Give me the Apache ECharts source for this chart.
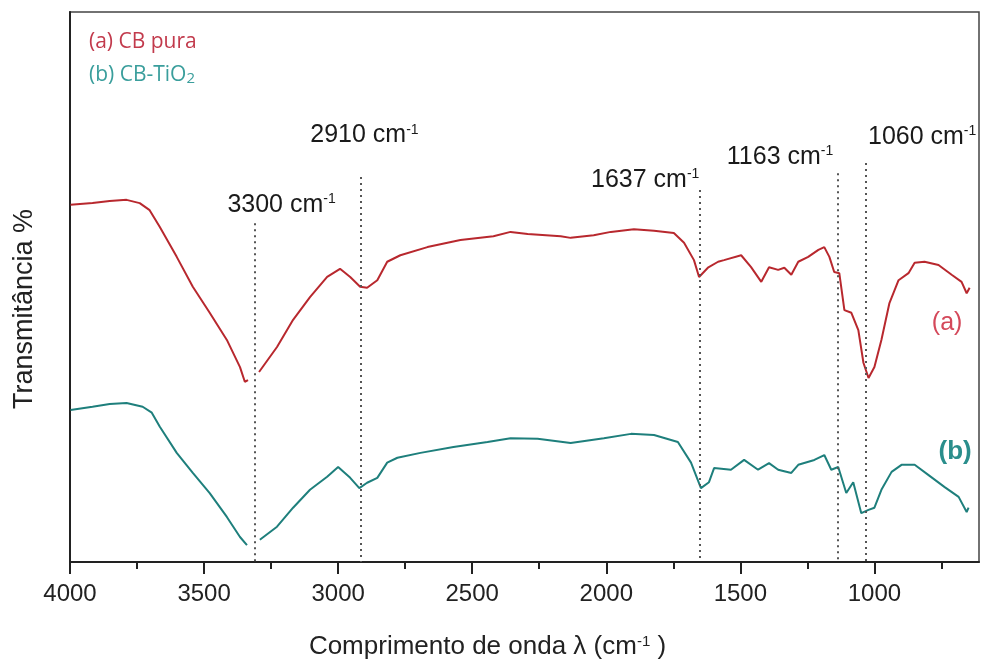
<!DOCTYPE html>
<html>
<head>
<meta charset="utf-8">
<title>FTIR CB</title>
<script src="https://cdn.jsdelivr.net/npm/echarts@6/dist/echarts.min.js"></script>
<style>
  html, body { margin: 0; padding: 0; background: #fff; }
  #ftir { width: 981px; height: 659px; }
</style>
</head>
<body>
<div id="ftir"></div>
<script>
// espectro (a) CB pura: [número de onda, transmitância]
const curveA = [
  [3998, 64.5], [3916, 64.8], [3852, 65.2], [3789, 65.4], [3740, 64.8], [3703, 63.5],
  [3665, 60.4], [3602, 54.9], [3542, 49.4], [3479, 44.6], [3415, 39.6], [3366, 34.6],
  [3348, 31.9], [3336, 32.2], [3318, null], [3295, 33.7], [3228, 38.3], [3168, 43.3],
  [3105, 47.5], [3041, 51.2], [2993, 52.7], [2955, 51.2], [2918, 49.4], [2892, 49.2],
  [2854, 50.6], [2817, 54.0], [2768, 55.2], [2667, 56.7], [2544, 58.0], [2421, 58.7],
  [2357, 59.5], [2293, 59.1], [2170, 58.7], [2133, 58.4], [2047, 58.9], [1983, 59.5],
  [1897, 60.0], [1822, 59.7], [1748, 59.3], [1710, 57.5], [1673, 54.3], [1654, 51.2],
  [1621, 52.9], [1583, 54.0], [1561, 54.3], [1497, 55.2], [1460, 53.0], [1422, 50.3],
  [1393, 53.0], [1359, 52.5], [1336, 52.9], [1310, 51.6], [1284, 54.0], [1247, 54.9],
  [1209, 56.2], [1187, 56.7], [1168, 54.9], [1150, 52.1], [1131, 51.9], [1112, 45.1],
  [1086, 44.6], [1060, 41.4], [1041, 35.4], [1022, 32.6], [1000, 34.6], [974, 39.6],
  [944, 46.4], [910, 50.6], [873, 51.9], [850, 53.8], [813, 54.0], [761, 53.4],
  [712, 51.6], [675, 50.3], [656, 48.2], [645, 49.2]
]

// espectro (b) CB-TiO2
const curveB = [
  [3998, 26.7], [3916, 27.3], [3852, 27.8], [3789, 28.0], [3729, 27.3], [3695, 26.2],
  [3665, 23.6], [3602, 18.8], [3542, 15.1], [3479, 11.4], [3415, 7.0], [3366, 3.3],
  [3340, 1.8], [3318, null], [3292, 2.8], [3228, 5.2], [3168, 8.7], [3105, 12.0],
  [3041, 14.4], [3000, 16.2], [2955, 14.2], [2921, 12.3], [2892, 13.3], [2854, 14.2],
  [2817, 17.0], [2779, 17.9], [2693, 18.8], [2570, 19.9], [2443, 20.8], [2357, 21.5],
  [2256, 21.4], [2133, 20.6], [2009, 21.5], [1908, 22.3], [1822, 22.1], [1733, 20.8],
  [1684, 17.0], [1647, 12.3], [1617, 13.4], [1598, 16.0], [1535, 15.7], [1486, 17.5],
  [1434, 15.7], [1393, 16.9], [1359, 15.7], [1310, 15.1], [1284, 16.6], [1224, 17.5],
  [1187, 18.4], [1161, 15.7], [1135, 16.2], [1105, 11.4], [1079, 13.4], [1049, 7.7],
  [1022, 8.3], [1000, 8.7], [974, 12.0], [936, 15.3], [899, 16.6], [850, 16.6],
  [798, 14.7], [738, 12.5], [686, 10.7], [656, 7.9], [649, 8.7]
]

// eixo x
const majorTicks = [4000, 3500, 3000, 2500, 2000, 1500, 1000]
const minorTicks = [3750, 3250, 2750, 2250, 1750, 1250, 750]

// bandas marcadas
const peakNames = ['3300', '2910', '1637', '1163', '1060']
const peakLines = [3311, 2917, 1650, 1138, 1031]
const peakTops = [61.1, 69.6, 67.2, 70.3, 72.2]

const colorA = '#b8282e'
const colorB = '#1e7f7c'

// onde fica o texto de cada banda (em coordenadas do gráfico)
const peakLabelAt = [[3211, 64.5], [2902, 77.3], [1855, 69.1], [1352, 73.3], [822, 77.0]]

const chart = echarts.init(document.getElementById('ftir'))

const axisFont = 'Liberation Sans, Arial, sans-serif'

chart.setOption({
  animation: false,
  grid: {
    left: 70,
    right: 2,
    top: 12,
    bottom: 97,
    outerBoundsMode: 'none',
    containLabel: false,
    show: true,
    borderColor: '#444',
    borderWidth: 1.5
  },
  legend: {
    orient: 'vertical',
    left: 79,
    top: 27,
    icon: 'none',
    itemWidth: 0,
    itemGap: 12,
    selectedMode: false,
    data: [
      { name: '(a) CB pura', textStyle: { color: '#c23a4c' } },
      { name: '(b) CB-TiO2', textStyle: { color: '#3a9e9c' } }
    ],
    formatter: function(name) {
      if (name === '(b) CB-TiO2') return '{t|(b) CB-TiO}{s|2}'
      return '{t|' + name + '}'
    },
    textStyle: {
      fontFamily: 'Open Sans, sans-serif',
      fontSize: 21,
      rich: {
        t: { fontSize: 21, fontFamily: 'Open Sans, sans-serif' },
        s: { fontSize: 15, fontFamily: 'Open Sans, sans-serif', verticalAlign: 'bottom' }
      }
    }
  },
  xAxis: [
    {
      type: 'value',
      inverse: true,
      min: 610,
      max: 4000,
      name: '{a|Comprimento de onda λ (cm}{s|-1}{a| )}',
      nameLocation: 'middle',
      nameGap: 72,
      nameTextStyle: {
        padding: [0, 74, 0, 0],
        rich: {
          a: { fontSize: 26, color: '#222', fontFamily: axisFont },
          s: { fontSize: 15, color: '#222', fontFamily: axisFont, verticalAlign: 'top' }
        }
      },
      axisLine: { onZero: false, lineStyle: { color: '#222', width: 2 } },
      axisTick: { show: true, length: 12, customValues: majorTicks, lineStyle: { color: '#222', width: 2 } },
      axisLabel: {
        customValues: majorTicks,
        margin: 20,
        fontSize: 24,
        color: '#222',
        fontFamily: axisFont,
        formatter: function(v) { return String(v) }
      },
      splitLine: { show: false }
    },
    {
      // ticks menores
      type: 'value',
      inverse: true,
      min: 610,
      max: 4000,
      position: 'bottom',
      offset: 0,
      axisLine: { show: false, onZero: false },
      axisTick: { show: true, length: 7, customValues: minorTicks, lineStyle: { color: '#222', width: 2 } },
      axisLabel: { show: false },
      splitLine: { show: false }
    }
  ],
  yAxis: {
    type: 'value',
    min: -1.3,
    max: 100,
    name: 'Transmitância %',
    nameLocation: 'middle',
    nameGap: 32,
    nameTextStyle: {
      fontSize: 27,
      color: '#222',
      fontFamily: axisFont,
      padding: [0, 44, 0, 0]
    },
    axisLine: { show: true, onZero: false, lineStyle: { color: '#222', width: 2 } },
    axisTick: { show: false },
    axisLabel: { show: false },
    splitLine: { show: false }
  },
  series: [
    {
      name: '(a) CB pura',
      type: 'line',
      data: curveA,
      showSymbol: false,
      connectNulls: false,
      lineStyle: { color: colorA, width: 2 },
      itemStyle: { color: colorA },
      markLine: {
        silent: true,
        symbol: 'none',
        label: { show: false },
        lineStyle: { color: '#555', width: 2, type: [2, 4] },
        data: peakLines.map(function(w, i) {
          return [{ coord: [w, peakTops[i]] }, { coord: [w, -1.3] }]
        })
      },
      markPoint: {
        silent: true,
        symbolSize: 0,
        data: [{
          coord: [729, 42.7],
          label: { show: true, position: 'inside', formatter: '(a)', fontSize: 25, color: '#d4485a', fontFamily: axisFont }
        }]
      }
    },
    {
      name: '(b) CB-TiO2',
      type: 'line',
      data: curveB,
      showSymbol: false,
      connectNulls: false,
      lineStyle: { color: colorB, width: 2 },
      itemStyle: { color: colorB },
      markPoint: {
        silent: true,
        symbolSize: 0,
        data: [{
          coord: [699, 19.0],
          label: { show: true, position: 'inside', formatter: '(b)', fontSize: 26, fontWeight: 'bold', color: '#2a8e8c', fontFamily: axisFont }
        }]
      }
    },
    {
      // textos das bandas
      name: 'bandas',
      type: 'scatter',
      symbolSize: 0,
      silent: true,
      itemStyle: { opacity: 1 },
      data: peakLabelAt.map(function(p, i) {
        return { value: p, name: peakNames[i] }
      }),
      label: {
        show: true,
        position: 'inside',
        color: '#1a1a1a',
        opacity: 1,
        formatter: function(p) {
          return '{n|' + p.name + ' cm}{s|-1}'
        },
        rich: {
          n: { fontSize: 25, color: '#1a1a1a', fontFamily: axisFont },
          s: { fontSize: 14, color: '#1a1a1a', fontFamily: axisFont, verticalAlign: 'top' }
        }
      }
    }
  ]
})
</script>
</body>
</html>
